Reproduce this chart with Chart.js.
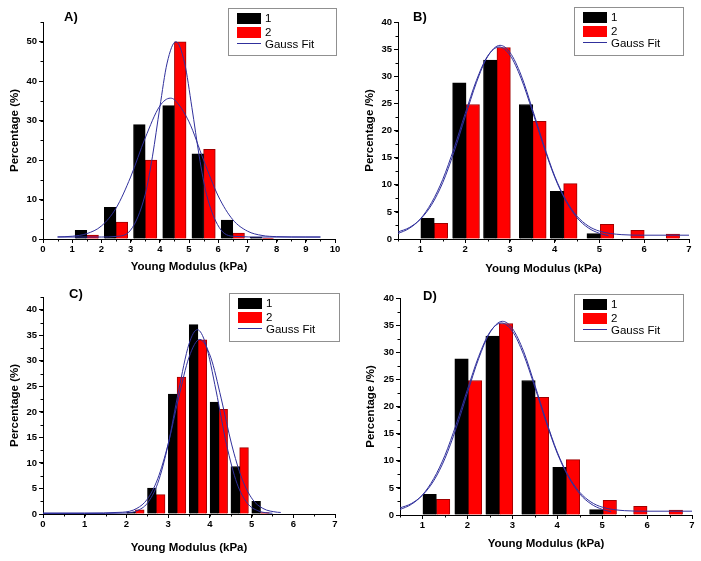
<!DOCTYPE html>
<html>
<head>
<meta charset="utf-8">
<script src="https://cdn.jsdelivr.net/npm/chart.js@4.4.1/dist/chart.umd.min.js"></script>
<style>
  html, body { margin: 0; padding: 0; background: #fff; }
  #page { position: relative; width: 701px; height: 561px; overflow: hidden; }
  canvas { position: absolute; }
</style>
</head>
<body>
<div id="page">
  <canvas id="chartA" width="350" height="280" style="left:0;top:0"></canvas>
  <canvas id="chartB" width="351" height="280" style="left:350px;top:0"></canvas>
  <canvas id="chartC" width="350" height="281" style="left:0;top:280px"></canvas>
  <canvas id="chartD" width="351" height="281" style="left:350px;top:280px"></canvas>
</div>
<script>
const FONT = 'Arial, "Liberation Sans", sans-serif';
const FIT_COLOR = '#30309c';

// A) bin centres (kPa) and percentages
const aBins1 = [1.3, 2.3, 3.3, 4.3, 5.3, 6.3, 7.3];
const aPct1 = [2.2, 8.0, 29.0, 33.8, 21.6, 4.8, 0.5];
const aBins2 = [1.7, 2.7, 3.7, 4.7, 5.7, 6.7, 7.7];
const aPct2 = [1.0, 4.3, 20.0, 50.0, 22.7, 1.5, 0.2];
const aFit1X = [0.5, 1, 1.5, 2, 2.5, 3, 3.5, 4, 4.36, 4.5, 5, 5.5, 6, 6.5, 7, 7.5, 8, 9, 9.5];
const aFit1Y = [0.53, 0.7, 1.36, 3.3, 7.8, 15.7, 25.6, 33.7, 35.7, 35.3, 29.7, 20.0, 10.9, 4.9, 2.0, 0.9, 0.6, 0.5, 0.5];
const aFit2X = [0.5, 1.5, 2, 2.5, 3, 3.5, 3.75, 4, 4.25, 4.55, 4.85, 5.1, 5.35, 5.6, 6.1, 6.6, 7.5, 8.5, 9.5];
const aFit2Y = [0.5, 0.5, 0.5, 0.65, 2.25, 11.3, 21.0, 33.3, 44.6, 50.0, 44.6, 33.3, 21.0, 11.3, 2.25, 0.65, 0.5, 0.5, 0.5];
const aXTicks = [0, 1, 2, 3, 4, 5, 6, 7, 8, 9, 10];
const aYTicks = [0, 10, 20, 30, 40, 50];

// B) and D) (same data)
const bBins1 = [1.16, 1.87, 2.56, 3.36, 4.05, 4.87];
const bPct1 = [3.8, 28.8, 33.0, 24.8, 8.8, 1.0];
const bBins2 = [1.46, 2.17, 2.86, 3.66, 4.35, 5.17, 5.85, 6.64];
const bPct2 = [2.9, 24.8, 35.3, 21.7, 10.2, 2.7, 1.6, 0.9];
const bFit1X = [0.5, 0.75, 1, 1.25, 1.5, 1.75, 2, 2.25, 2.5, 2.78, 3, 3.25, 3.5, 3.75, 4, 4.25, 4.5, 4.75, 5, 5.5, 6, 7];
const bFit1Y = [1.3, 2.1, 3.65, 6.3, 10.4, 16.0, 22.5, 28.8, 33.6, 35.7, 34.4, 30.2, 24.0, 17.5, 11.6, 7.2, 4.2, 2.4, 1.45, 0.8, 0.7, 0.7];
const bFit2X = [0.5, 0.75, 1, 1.25, 1.5, 1.75, 2, 2.25, 2.5, 2.76, 3, 3.25, 3.5, 3.75, 4, 4.25, 4.5, 4.75, 5, 5.2];
const bFit2Y = [1.0, 1.95, 3.7, 6.7, 11.0, 16.7, 23.1, 29.2, 33.7, 35.4, 33.9, 29.6, 23.6, 17.2, 11.4, 7.0, 3.9, 2.05, 1.04, 0.6];
const bXTicks = [1, 2, 3, 4, 5, 6, 7];
const bYTicks = [0, 5, 10, 15, 20, 25, 30, 35, 40];

// C)
const cBins1 = [2.11, 2.61, 3.11, 3.61, 4.11, 4.61, 5.11];
const cPct1 = [0.4, 5.1, 23.5, 37.1, 21.9, 9.3, 2.5];
const cBins2 = [2.32, 2.82, 3.32, 3.82, 4.32, 4.82, 5.32];
const cPct2 = [0.8, 3.8, 26.8, 34.1, 20.5, 13.0, 0.3];
const cFit1X = [0, 1, 2, 2.25, 2.5, 2.75, 3, 3.25, 3.5, 3.7, 3.9, 4.15, 4.4, 4.65, 4.9, 5.15, 5.4, 5.5];
const cFit1Y = [0.1, 0.1, 0.2, 0.64, 2.1, 6.0, 13.6, 24.1, 33.3, 36.1, 33.3, 24.1, 13.6, 6.0, 2.1, 0.64, 0.2, 0.15];
const cFit2X = [0, 1, 1.9, 2.25, 2.5, 2.75, 3, 3.25, 3.5, 3.76, 4.02, 4.27, 4.52, 4.77, 5.02, 5.27, 5.62, 5.7];
const cFit2Y = [0.2, 0.2, 0.34, 1.1, 2.9, 6.9, 13.7, 22.7, 30.7, 34.2, 30.7, 22.7, 13.7, 6.9, 2.9, 1.1, 0.34, 0.3];
const cXTicks = [0, 1, 2, 3, 4, 5, 6, 7];
const cYTicks = [0, 5, 10, 15, 20, 25, 30, 35, 40];

const legendLabels = ['1', '2', 'Gauss Fit'];
const xTitle = 'Young Modulus (kPa)';

const zip = (xs, ys) => xs.map((x, i) => ({ x: x, y: ys[i] }));
const asTicks = (vals) => vals.map((v) => ({ value: v }));

// panel label + legend box + minor ticks
const decor = {
  id: 'decor',
  afterDraw(chart, args, o) {
    const ctx = chart.ctx;
    const { x, y } = chart.scales;
    ctx.save();
    ctx.strokeStyle = '#000';
    ctx.lineWidth = 1;
    ctx.beginPath();
    for (let v = x.min; v <= x.max + 1e-9; v += o.minorX) {
      const px = Math.round(x.getPixelForValue(v)) + 0.5;
      ctx.moveTo(px, y.bottom);
      ctx.lineTo(px, y.bottom + 2.5);
    }
    for (let v = y.min; v <= y.max + 1e-9; v += o.minorY) {
      const py = Math.round(y.getPixelForValue(v)) + 0.5;
      ctx.moveTo(x.left, py);
      ctx.lineTo(x.left - 2.5, py);
    }
    ctx.stroke();

    ctx.fillStyle = '#000';
    ctx.font = 'bold 13px ' + FONT;
    ctx.textBaseline = 'middle';
    ctx.textAlign = 'left';
    ctx.fillText(o.label, o.labelPos[0], o.labelPos[1]);

    const [bx, by, bw, bh] = o.box;
    ctx.strokeStyle = '#909090';
    ctx.strokeRect(bx + 0.5, by + 0.5, bw, bh);
    const ds = chart.data.datasets;
    ctx.font = '11.5px ' + FONT;
    const rowY = [10.5, 24.5, 36];
    legendLabels.forEach((txt, i) => {
      const cy = by + rowY[i];
      const d = ds[i];
      if (d.type === 'line') {
        ctx.strokeStyle = d.borderColor;
        ctx.beginPath();
        ctx.moveTo(bx + 9, Math.round(cy) - 0.5);
        ctx.lineTo(bx + 33, Math.round(cy) - 0.5);
        ctx.stroke();
      } else {
        ctx.fillStyle = d.backgroundColor;
        ctx.fillRect(bx + 9, cy - 5.5, 24, 11);
      }
      ctx.fillStyle = '#000';
      ctx.fillText(txt, bx + 37, cy + 0.5);
    });
    ctx.restore();
  }
};

function makeChart(p) {
  const canvas = document.getElementById(p.id);
  const W = canvas.width, H = canvas.height;
  const [aL, aT, aR, aB] = p.area;
  const tickFont = { family: FONT, size: 9.5, weight: 'bold' };
  const titleFont = { family: FONT, size: 11.5, weight: 'bold' };
  const barBase = { grouped: false, categoryPercentage: 1, barPercentage: 1, borderWidth: 1, order: 1 };
  const lineBase = { type: 'line', borderColor: FIT_COLOR, borderWidth: 1, pointRadius: 0, fill: false, cubicInterpolationMode: 'monotone', order: 0 };

  new Chart(canvas, {
    type: 'bar',
    data: {
      datasets: [
        Object.assign({ label: legendLabels[0], data: zip(p.bins1, p.pct1), backgroundColor: '#000000', borderColor: '#000000' }, barBase),
        Object.assign({ label: legendLabels[1], data: zip(p.bins2, p.pct2), backgroundColor: '#ff0000', borderColor: '#a00000' }, barBase),
        Object.assign({ label: legendLabels[2], data: zip(p.fit1X, p.fit1Y) }, lineBase),
        Object.assign({ label: legendLabels[2], data: zip(p.fit2X, p.fit2Y) }, lineBase)
      ]
    },
    options: {
      responsive: false,
      animation: false,
      events: [],
      layout: { padding: { left: 0, top: aT, right: W - aR, bottom: 0 } },
      plugins: {
        legend: { display: false },
        tooltip: { enabled: false },
        decor: { label: p.label, labelPos: p.labelPos, box: p.box, minorX: p.minorX, minorY: p.minorY }
      },
      scales: {
        x: {
          type: 'linear',
          min: p.xMin,
          max: p.xMax,
          offset: false,
          afterFit: (s) => { s.height = H - aB; },
          afterBuildTicks: (s) => { s.ticks = asTicks(p.xTicks); },
          ticks: { font: tickFont, color: '#000', padding: 1, maxRotation: 0, autoSkip: false },
          grid: { drawOnChartArea: false, offset: false, tickLength: 4, color: '#000' },
          border: { color: '#000', width: 1 },
          title: { display: true, text: xTitle, font: titleFont, color: '#000', padding: { top: 2, bottom: p.xTitlePad } }
        },
        y: {
          min: 0,
          max: p.yMax,
          afterFit: (s) => { s.width = aL; },
          afterBuildTicks: (s) => { s.ticks = asTicks(p.yTicks); },
          ticks: { font: tickFont, color: '#000', padding: 2 },
          grid: { drawOnChartArea: false, tickLength: 4, color: '#000' },
          border: { color: '#000', width: 1 },
          title: { display: true, text: p.yTitle, font: titleFont, color: '#000', padding: { top: p.yTitlePad, bottom: 2 } }
        }
      }
    },
    plugins: [decor]
  });
}

const panels = [
  { id: 'chartA', label: 'A)', labelPos: [64, 17], area: [43, 22, 335, 239], box: [228, 8, 108, 47],
    xMin: 0, xMax: 10, xTicks: aXTicks, minorX: 0.5, yMax: 55, yTicks: aYTicks, minorY: 5,
    yTitle: 'Percentage (%)', xTitlePad: 6.5, yTitlePad: 8,
    bins1: aBins1, pct1: aPct1, bins2: aBins2, pct2: aPct2, fit1X: aFit1X, fit1Y: aFit1Y, fit2X: aFit2X, fit2Y: aFit2Y },
  { id: 'chartB', label: 'B)', labelPos: [63, 17], area: [48, 22, 339, 239], box: [224, 7, 109, 48],
    xMin: 0.5, xMax: 7, xTicks: bXTicks, minorX: 0.5, yMax: 40, yTicks: bYTicks, minorY: 2.5,
    yTitle: 'Percentage /%)', xTitlePad: 4.5, yTitlePad: 13,
    bins1: bBins1, pct1: bPct1, bins2: bBins2, pct2: bPct2, fit1X: bFit1X, fit1Y: bFit1Y, fit2X: bFit2X, fit2Y: bFit2Y },
  { id: 'chartC', label: 'C)', labelPos: [69, 14.5], area: [43, 17, 335, 234], box: [229, 13, 110, 48],
    xMin: 0, xMax: 7, xTicks: cXTicks, minorX: 0.5, yMax: 42.5, yTicks: cYTicks, minorY: 2.5,
    yTitle: 'Percentage (%)', xTitlePad: 6.5, yTitlePad: 8,
    bins1: cBins1, pct1: cPct1, bins2: cBins2, pct2: cPct2, fit1X: cFit1X, fit1Y: cFit1Y, fit2X: cFit2X, fit2Y: cFit2Y },
  { id: 'chartD', label: 'D)', labelPos: [73, 16], area: [50, 18, 342, 235], box: [224, 14, 109, 47],
    xMin: 0.5, xMax: 7, xTicks: bXTicks, minorX: 0.5, yMax: 40, yTicks: bYTicks, minorY: 2.5,
    yTitle: 'Percentage /%)', xTitlePad: 10.5, yTitlePad: 14,
    bins1: bBins1, pct1: bPct1, bins2: bBins2, pct2: bPct2, fit1X: bFit1X, fit1Y: bFit1Y, fit2X: bFit2X, fit2Y: bFit2Y }
];

panels.forEach(makeChart);
</script>
</body>
</html>
